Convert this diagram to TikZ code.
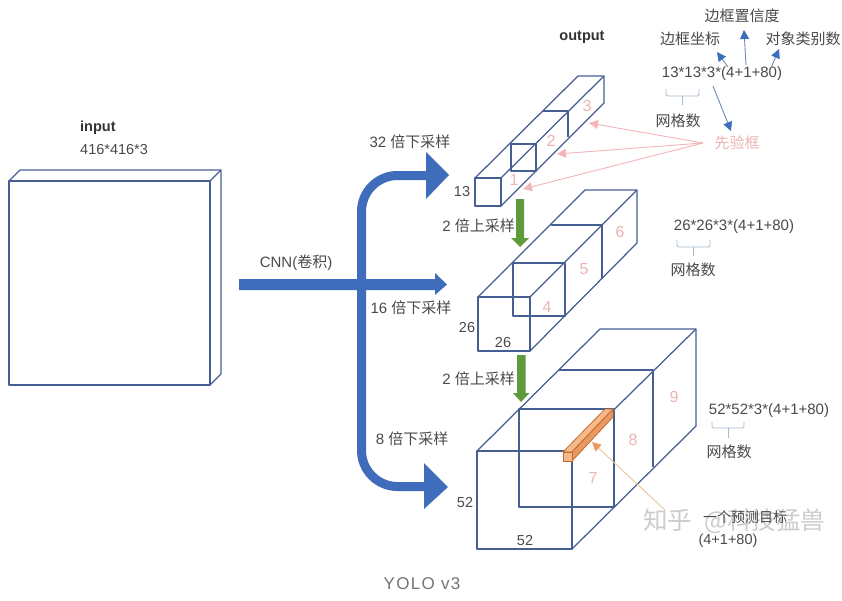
\documentclass[tikz,border=0pt]{standalone}
\usepackage{fontspec}
\setmainfont{Liberation Sans}
\newfontfamily\cjkfam{Noto Sans CJK SC}
\newcommand{\zh}[1]{{\cjkfam #1}}
\usetikzlibrary{arrows.meta}
\definecolor{cubeblue}{HTML}{465F92}
\definecolor{bandblue}{HTML}{3F6DBB}
\definecolor{tipblue}{HTML}{3C6FBA}
\definecolor{thinblue}{HTML}{6F88B5}
\definecolor{bracec}{HTML}{A9B9CC}
\definecolor{arrowgreen}{HTML}{5F9A3C}
\definecolor{pinktxt}{HTML}{EDB3B5}
\definecolor{pinkline}{HTML}{F2B5B8}
\definecolor{txt}{HTML}{4A4A4A}
\definecolor{orlight}{HTML}{F6B98A}
\definecolor{ordark}{HTML}{E89A62}
\definecolor{oredge}{HTML}{C56A2B}
\definecolor{orline}{HTML}{EEC49A}
\tikzset{
  cubeline/.style={draw=cubeblue,line width=1.25pt,line join=round},
  lab/.style={text=txt,inner sep=0pt,font=\fontsize{15}{18}\selectfont},
  dim/.style={text=txt,inner sep=0pt,font=\fontsize{14.5}{17}\selectfont},
  formula/.style={text=txt,inner sep=0pt,font=\fontsize{15}{18}\selectfont},
  titlelab/.style={text=black!80,inner sep=0pt,font=\fontsize{14.5}{17}\selectfont\bfseries},
  num/.style={text=pinktxt,inner sep=0pt,font=\fontsize{16}{19}\selectfont},
  band/.style={draw=bandblue,line width=9pt,rounded corners=36pt},
  tipfill/.style={fill=bandblue},
  bluearrow/.style={draw=thinblue,line width=0.9pt,-{Triangle[length=9pt,width=9pt,color=tipblue]}},
  pinkarrow/.style={draw=pinkline,line width=0.9pt,-{Triangle[length=9pt,width=9pt]}},
  orangearrow/.style={draw=orline,line width=0.9pt,-{Triangle[length=9pt,width=9pt,color=ordark]}},
  bracel/.style={draw=bracec,line width=0.9pt,rounded corners=1.5pt},
}
\begin{document}
\begin{tikzpicture}[x=1pt,y=-1pt]
\useasboundingbox[fill=white] (0,0) rectangle (842,600);

% input slab
\draw[cubeline] (9,181) rectangle (210,385);
\draw[cubeline] (9,181) -- (20,170) -- (221,170) -- (221,374) -- (210,385);
\draw[cubeline] (210,181) -- (221,170);
\node[titlelab,anchor=west] (inputlab) at (80,128) {input};
\node[dim,anchor=west] (inputdim) at (80,150) {416*416*3};

% wide blue arrows
\coordinate (bendtop) at (426,175.5);
\coordinate (bendcornerA) at (361.5,175.5);
\coordinate (bendcornerB) at (361.5,486.5);
\coordinate (bendbot) at (424,486.5);
\draw[band] (bendtop) -- (bendcornerA) -- (bendcornerB) -- (bendbot);
\fill[tipfill] (426,152) -- (449,175) -- (426,199) -- cycle;
\fill[tipfill] (424,463) -- (448,487) -- (424,509) -- cycle;
\fill[tipfill] (239,279) -- (435,279) -- (435,273) -- (447,284.5) -- (435,295) -- (435,290) -- (239,290) -- cycle;
\node[lab] (cnnlab) at (296,263) {CNN(\zh{卷积})};
\node[lab] (d32) at (410,142) {32 \zh{倍下采样}};
\node[lab] (d16) at (411,308) {16 \zh{倍下采样}};
\node[lab] (d8) at (412,439) {8 \zh{倍下采样}};
\node[lab] (u2a) at (478.5,226) {2 \zh{倍上采样}};
\node[lab] (u2b) at (478.5,379) {2 \zh{倍上采样}};

% cube 13
\draw[cubeline] (475,178) rectangle (501,206);
\draw[cubeline] (511,144) rectangle (536,171);
\draw[cubeline] (475,178) -- (578,76) -- (604,76) -- (604,103) -- (501,206);
\draw[cubeline] (501,178) -- (604,76);
\draw[cubeline] (543,111) -- (568,111) -- (568,137);
\node[num] (n1) at (514,180) {1};
\node[num] (n2) at (551,141) {2};
\node[num] (n3) at (587,106) {3};
\node[dim] (s13) at (462,192) {13};

% cube 26
\draw[cubeline] (478,297) rectangle (530,351);
\draw[cubeline] (513,263) rectangle (565,316);
\draw[cubeline] (478,297) -- (585,190) -- (637,190) -- (637,243) -- (530,351);
\draw[cubeline] (530,297) -- (637,190);
\draw[cubeline] (551,225) -- (602,225) -- (602,279);
\node[num] (n4) at (547,307) {4};
\node[num] (n5) at (584,269) {5};
\node[num] (n6) at (620,232) {6};
\node[dim] (s26a) at (467,328) {26};
\node[dim] (s26b) at (503,343) {26};

% cube 52
\draw[cubeline] (477,451) rectangle (572,549);
\draw[cubeline] (519,409) rectangle (614,507);
\draw[cubeline] (477,451) -- (600,329) -- (696,329) -- (696,426) -- (572,549);
\draw[cubeline] (572,451) -- (696,329);
\draw[cubeline] (559,370) -- (653,370) -- (653,467);
\node[num] (n7) at (593,478) {7};
\node[num] (n8) at (633,440) {8};
\node[num] (n9) at (674,397) {9};
\node[dim] (s52a) at (465,502) {52};
\node[dim] (s52b) at (525,540) {52};

% orange cell
\filldraw[fill=orlight,draw=oredge,line width=0.8pt,line join=round] (563,452) -- (572,452) -- (613,409) -- (605,409) -- cycle;
\filldraw[fill=ordark,draw=oredge,line width=0.8pt,line join=round] (572,452) -- (613,409) -- (613,417) -- (572,461) -- cycle;
\filldraw[fill=orlight,draw=oredge,line width=0.8pt] (563,452) rectangle (572,461);

% green arrows
\fill[arrowgreen] (516,199) -- (524,199) -- (524,238) -- (529,238) -- (520,247) -- (511,238) -- (516,238) -- cycle;
\fill[arrowgreen] (517,355) -- (525.5,355) -- (525.5,393) -- (529.5,393) -- (521,402) -- (513,393) -- (517,393) -- cycle;

% output annotations
\node[titlelab] (outlab) at (582,37) {output};
\node[lab] (conf) at (742,16) {\zh{边框置信度}};
\node[lab] (coord) at (690,39) {\zh{边框坐标}};
\node[lab] (cls) at (803,39) {\zh{对象类别数}};
\node[formula] (f13) at (722,74) {13*13*3*(4+1+80)};
\node[lab] (g13) at (678,121) {\zh{网格数}};
\node[lab,text=pinktxt] (prior) at (737,143) {\zh{先验框}};
\coordinate (a1s) at (728,67); \coordinate (a1e) at (717,52);
\coordinate (a2s) at (746,65); \coordinate (a2e) at (744,30);
\coordinate (a3s) at (771,68); \coordinate (a3e) at (779,49);
\coordinate (a4s) at (713,86); \coordinate (a4e) at (731,131);
\draw[bluearrow] (a1s) -- (a1e);
\draw[bluearrow] (a2s) -- (a2e);
\draw[bluearrow] (a3s) -- (a3e);
\draw[bluearrow] (a4s) -- (a4e);
\coordinate (pfrom) at (703,143);
\coordinate (p3) at (589,123);
\coordinate (p2) at (557,154);
\coordinate (p1) at (523,189);
\draw[pinkarrow] (pfrom) -- (p3);
\draw[pinkarrow] (pfrom) -- (p2);
\draw[pinkarrow] (pfrom) -- (p1);

% braces
\draw[bracel] (666,89) -- (666,96) -- (699,96) -- (699,89);
\draw[bracel] (682.5,96) -- (682.5,105);
\node[formula] (f26) at (734,227) {26*26*3*(4+1+80)};
\draw[bracel] (677,240) -- (677,247) -- (710,247) -- (710,240);
\draw[bracel] (693.5,247) -- (693.5,256);
\node[lab] (g26) at (693,270) {\zh{网格数}};
\node[formula] (f52) at (769,411) {52*52*3*(4+1+80)};
\draw[bracel] (712,422) -- (712,428) -- (744,428) -- (744,422);
\draw[bracel] (728,428) -- (728,438);
\node[lab] (g52) at (729,452) {\zh{网格数}};

% predicted target
\coordinate (ofrom) at (665,510);
\coordinate (oto) at (592,442);
\draw[orangearrow] (ofrom) -- (oto);
\node[inner sep=0pt,anchor=west,text=gray,opacity=0.4] (wm) at (643,521) {\cjkfam\fontsize{24.5}{28}\selectfont 知乎\hspace{12pt}@科技猛兽};
\node[text=txt,inner sep=0pt,font=\fontsize{14}{17}\selectfont] (target) at (745,517) {\zh{一个预测目标}};
\node[dim] (tdim) at (728,541) {(4+1+80)};

% caption
\node[inner sep=0pt,text=black!55,font=\fontsize{17}{20}\selectfont] (cap) at (422,584) {\addfontfeature{LetterSpace=8}YOLO v3};
\end{tikzpicture}
\end{document}
